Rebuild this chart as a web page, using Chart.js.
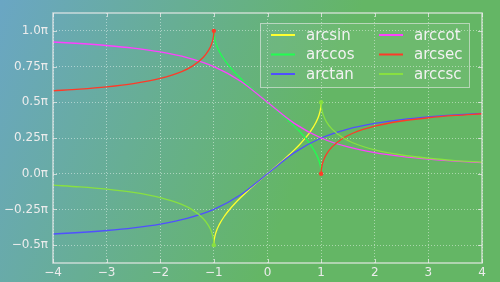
<!DOCTYPE html>
<html>
<head>
<meta charset="utf-8">
<script src="https://cdn.jsdelivr.net/npm/chart.js@4/dist/chart.umd.min.js"></script>
<style>
  html, body { margin: 0; padding: 0; }
  #wrap { width: 500px; height: 282px; }
</style>
</head>
<body>
<div id="wrap"><canvas id="c" width="500" height="282"></canvas></div>
<script>
// values are in units of pi
const xTicks = [-4, -3, -2, -1, 0, 1, 2, 3, 4];
const yTicks = [-0.5, -0.25, 0, 0.25, 0.5, 0.75, 1.0];
const yTickLabels = ['\u22120.5\u03c0', '\u22120.25\u03c0', '0.0\u03c0', '0.25\u03c0', '0.5\u03c0', '0.75\u03c0', '1.0\u03c0'];

const names = ['arcsin', 'arccos', 'arctan', 'arccot', 'arcsec', 'arccsc'];
const colors = ['#ffff30', '#20ff50', '#5050ff', '#ff40ff', '#ff3a28', '#88e040'];

const xUnit = [-1, -0.999, -0.99, -0.96, -0.9, -0.8, -0.7, -0.6, -0.5, -0.4, -0.2, 0,
  0.2, 0.4, 0.5, 0.6, 0.7, 0.8, 0.9, 0.96, 0.99, 0.999, 1];
const arcsinY = [-0.5, -0.4858, -0.455, -0.4097, -0.3564, -0.2952, -0.2468, -0.2048, -0.1667, -0.131, -0.0641, 0,
  0.0641, 0.131, 0.1667, 0.2048, 0.2468, 0.2952, 0.3564, 0.4097, 0.455, 0.4858, 0.5];
const arccosY = [1, 0.9858, 0.955, 0.9097, 0.8564, 0.7952, 0.7468, 0.7048, 0.6667, 0.631, 0.5641, 0.5,
  0.4359, 0.369, 0.3333, 0.2952, 0.2532, 0.2048, 0.1436, 0.0903, 0.045, 0.0142, 0];

const xWide = [-4, -3.5, -3, -2.5, -2, -1.5, -1, -0.5, 0, 0.5, 1, 1.5, 2, 2.5, 3, 3.5, 4];
const arctanY = [-0.422, -0.4114, -0.3976, -0.3789, -0.3524, -0.3128, -0.25, -0.1476, 0,
  0.1476, 0.25, 0.3128, 0.3524, 0.3789, 0.3976, 0.4114, 0.422];
const arccotY = [0.922, 0.9114, 0.8976, 0.8789, 0.8524, 0.8128, 0.75, 0.6476, 0.5,
  0.3524, 0.25, 0.1872, 0.1476, 0.1211, 0.1024, 0.0886, 0.078];

const xOuter = [-4, -3.5, -3, -2.5, -2, -1.6, -1.4, -1.2, -1.1, -1.05, -1.01, -1.001, -1, 0,
  1, 1.001, 1.01, 1.05, 1.1, 1.2, 1.4, 1.6, 2, 2.5, 3, 3.5, 4];
const arcsecY = [0.5804, 0.5922, 0.6082, 0.631, 0.6667, 0.7149, 0.7532, 0.8136, 0.8632, 0.9014, 0.9553, 0.9858, 1, null,
  0, 0.0142, 0.0447, 0.0986, 0.1368, 0.1864, 0.2468, 0.2851, 0.3333, 0.369, 0.3918, 0.4078, 0.4196];
const arccscY = [-0.0804, -0.0922, -0.1082, -0.131, -0.1667, -0.2149, -0.2532, -0.3136, -0.3632, -0.4014, -0.4553, -0.4858, -0.5, null,
  0.5, 0.4858, 0.4553, 0.4014, 0.3632, 0.3136, 0.2532, 0.2149, 0.1667, 0.131, 0.1082, 0.0922, 0.0804];

const seriesX = [xUnit, xUnit, xWide, xWide, xOuter, xOuter];
const seriesY = [arcsinY, arccosY, arctanY, arccotY, arcsecY, arccscY];

const FONT = 'DejaVu Sans';
const tickColor = '#ececec';
const frameColor = 'rgba(235,235,235,0.75)';
const gridColor = 'rgba(255,255,255,0.45)';

const bgPlugin = {
  id: 'bg',
  beforeDraw(chart) {
    const ctx = chart.ctx;
    const g = ctx.createLinearGradient(0, 0, 320, 120);
    g.addColorStop(0, '#6aa6c4');
    g.addColorStop(1, '#64b665');
    ctx.save();
    ctx.fillStyle = g;
    ctx.fillRect(0, 0, chart.width, chart.height);
    ctx.restore();
  }
};

const framePlugin = {
  id: 'frame',
  afterDraw(chart) {
    const ctx = chart.ctx;
    const a = chart.chartArea;
    const xs = chart.scales.x, ys = chart.scales.y;
    ctx.save();
    ctx.strokeStyle = frameColor;
    ctx.lineWidth = 1.5;
    ctx.strokeRect(a.left, a.top, a.right - a.left, a.bottom - a.top);
    ctx.lineWidth = 1;
    ctx.beginPath();
    xTicks.forEach(v => {
      const p = Math.round(xs.getPixelForValue(v)) + 0.5;
      ctx.moveTo(p, a.bottom); ctx.lineTo(p, a.bottom - 4);
      ctx.moveTo(p, a.top); ctx.lineTo(p, a.top + 4);
    });
    yTicks.forEach(v => {
      const p = Math.round(ys.getPixelForValue(v)) + 0.5;
      ctx.moveTo(a.left, p); ctx.lineTo(a.left + 4, p);
      ctx.moveTo(a.right, p); ctx.lineTo(a.right - 4, p);
    });
    ctx.stroke();

    // legend box inside the plot
    const bx = 260, by = 23, bw = 209, bh = 64;
    ctx.fillStyle = 'rgba(255,255,255,0.06)';
    ctx.fillRect(bx, by, bw, bh);
    ctx.strokeStyle = 'rgba(235,235,235,0.6)';
    ctx.lineWidth = 1;
    ctx.strokeRect(bx + 0.5, by + 0.5, bw, bh);
    ctx.font = '15px "' + FONT + '"';
    ctx.textBaseline = 'middle';
    ctx.textAlign = 'left';
    names.forEach((n, i) => {
      const col = Math.floor(i / 3), row = i % 3;
      const lx = col === 0 ? 271 : 379;
      const ly = 35 + row * 19.5;
      ctx.strokeStyle = colors[i];
      ctx.lineWidth = 2;
      ctx.beginPath();
      ctx.moveTo(lx, ly); ctx.lineTo(lx + 24, ly);
      ctx.stroke();
      ctx.fillStyle = '#f2f2f2';
      ctx.fillText(n, lx + 35, ly + 1);
    });
    ctx.restore();
  }
};

const datasets = names.map((n, i) => ({
  label: n,
  data: seriesX[i].map((x, j) => ({ x: x, y: seriesY[i][j] })),
  borderColor: colors[i],
  backgroundColor: colors[i],
  borderWidth: 1.3,
  fill: false,
  spanGaps: false,
  cubicInterpolationMode: 'monotone',
  order: names.length - i,
  pointRadius: ctx => (i >= 4 && ctx.raw && Math.abs(ctx.raw.x) === 1) ? 2.2 : 0,
  pointBorderWidth: 0,
  pointHoverRadius: 0
}));

new Chart(document.getElementById('c').getContext('2d'), {
  type: 'line',
  data: { datasets: datasets },
  plugins: [bgPlugin, framePlugin],
  options: {
    responsive: false,
    animation: false,
    events: [],
    layout: { padding: { left: 0, right: 18, top: 13, bottom: 0 } },
    plugins: {
      legend: { display: false },
      tooltip: { enabled: false }
    },
    scales: {
      x: {
        type: 'linear',
        min: -4,
        max: 4,
        afterBuildTicks: s => { s.ticks = xTicks.map(v => ({ value: v })); },
        afterFit: s => { s.height = 19; },
        border: { display: false, dash: [1, 2] },
        grid: { color: gridColor, drawTicks: false, lineWidth: 1 },
        ticks: {
          color: tickColor,
          padding: 3,
          maxRotation: 0,
          font: { family: FONT, size: 12 },
          callback: v => (v < 0 ? '\u2212' + Math.abs(v) : String(v))
        }
      },
      y: {
        type: 'linear',
        min: -0.625,
        max: 1.125,
        afterBuildTicks: s => { s.ticks = yTicks.map(v => ({ value: v })); },
        afterFit: s => { s.width = 53; },
        border: { display: false, dash: [1, 2] },
        grid: { color: gridColor, drawTicks: false, lineWidth: 1 },
        ticks: {
          color: tickColor,
          padding: 5,
          font: { family: FONT, size: 12 },
          callback: v => yTickLabels[yTicks.indexOf(v)]
        }
      }
    }
  }
});
</script>
</body>
</html>
